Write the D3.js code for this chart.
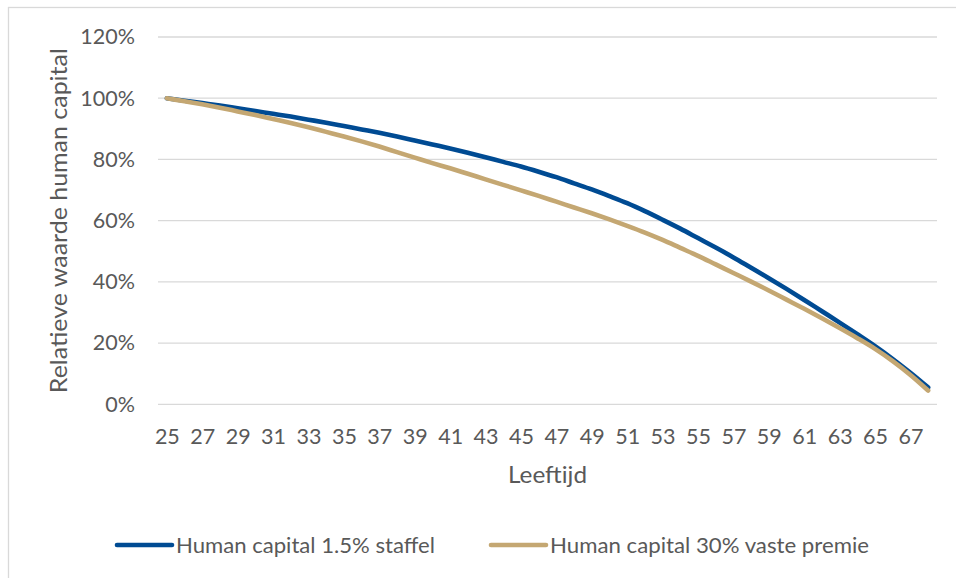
<!DOCTYPE html>
<html>
<head>
<meta charset="utf-8">
<script src="https://cdn.jsdelivr.net/npm/d3@7"></script>
<style>
  html, body { margin: 0; padding: 0; background: #fff; }
  svg { display: block; font-family: Lato, "Open Sans", sans-serif; }
</style>
</head>
<body>
<div id="chart"></div>
<script>
// ages on the category axis
const ages = [25, 26, 27, 28, 29, 30, 31, 32, 33, 34, 35, 36, 37, 38, 39, 40, 41, 42, 43, 44, 45, 46,
  47, 48, 49, 50, 51, 52, 53, 54, 55, 56, 57, 58, 59, 60, 61, 62, 63, 64, 65, 66, 67, 68];

// relative value of human capital, in %
const staffel = [100.0, 99.2, 98.4, 97.6, 96.7, 95.8, 94.9, 94.0, 93.0, 92.0, 90.9, 89.8, 88.7, 87.5,
  86.2, 84.9, 83.6, 82.2, 80.7, 79.2, 77.7, 76.0, 74.2, 72.2, 70.2, 68.0, 65.7, 63.1, 60.3, 57.4,
  54.3, 51.2, 48.0, 44.6, 41.2, 37.7, 34.1, 30.4, 26.7, 22.9, 19.0, 14.8, 10.3, 5.5];
const vastePremie = [100.0, 99.0, 98.0, 96.9, 95.7, 94.5, 93.2, 91.9, 90.5, 89.0, 87.5, 85.9, 84.2,
  82.4, 80.6, 78.8, 77.1, 75.3, 73.5, 71.7, 69.9, 68.1, 66.2, 64.3, 62.4, 60.4, 58.3, 56.1, 53.7,
  51.1, 48.5, 45.7, 42.9, 40.1, 37.2, 34.2, 31.2, 28.1, 24.9, 21.6, 18.1, 14.1, 9.6, 4.5];

const xTickLabels = [25, 27, 29, 31, 33, 35, 37, 39, 41, 43, 45, 47, 49, 51, 53, 55, 57, 59, 61, 63, 65, 67];
const yTickLabels = [0, 20, 40, 60, 80, 100, 120];

const seriesNames = ['Human capital 1.5% staffel', 'Human capital 30% vaste premie'];
const seriesColors = ['#004b93', '#c4a772'];

const width = 956, height = 578;
const margin = { top: 37, right: 19, bottom: 173.7, left: 158 };
const plotW = width - margin.left - margin.right;
const plotH = height - margin.top - margin.bottom;
const textColor = '#595959';
const gridColor = '#d9d9d9';

const svg = d3.select('#chart').append('svg')
  .attr('width', width)
  .attr('height', height);

// chart area border (runs off the right/bottom edge in the original)
svg.append('rect')
  .attr('x', 8.5).attr('y', 7.5)
  .attr('width', 970).attr('height', 600)
  .attr('fill', 'none')
  .attr('stroke', gridColor)
  .attr('stroke-width', 1.3);

const g = svg.append('g').attr('transform', `translate(${margin.left},${margin.top})`);

const x = d3.scalePoint().domain(ages).range([0, plotW]).padding(0.5);
const y = d3.scaleLinear().domain([0, 120]).range([plotH, 0]);

// gridlines
g.append('g')
  .selectAll('line')
  .data(yTickLabels)
  .join('line')
    .attr('x1', 0).attr('x2', plotW)
    .attr('y1', d => y(d)).attr('y2', d => y(d))
    .attr('stroke', gridColor)
    .attr('stroke-width', 1.3);

// y axis labels
const yAxis = g.append('g')
  .call(d3.axisLeft(y).tickValues(yTickLabels).tickFormat(d => d + '%').tickSize(0).tickPadding(23));
yAxis.select('.domain').remove();
yAxis.selectAll('text')
  .attr('fill', textColor)
  .style('font-size', '21.5px')
  .style('font-family', 'Lato, sans-serif');

// x axis labels
const xAxis = g.append('g')
  .attr('transform', `translate(0,${plotH})`)
  .call(d3.axisBottom(x).tickValues(xTickLabels).tickSize(0).tickPadding(24));
xAxis.select('.domain').remove();
xAxis.selectAll('text')
  .attr('fill', textColor)
  .style('font-size', '21.5px')
  .style('font-family', 'Lato, sans-serif');

// axis titles
g.append('text')
  .attr('x', plotW / 2)
  .attr('y', plotH + 79)
  .attr('text-anchor', 'middle')
  .attr('fill', textColor)
  .style('font-size', '23px')
  .attr('textLength', 79)
  .attr('lengthAdjust', 'spacingAndGlyphs')
  .text('Leeftijd');

svg.append('text')
  .attr('transform', `translate(67,${margin.top + plotH / 2}) rotate(-90)`)
  .attr('text-anchor', 'middle')
  .attr('fill', textColor)
  .style('font-size', '23px')
  .attr('textLength', 345)
  .attr('lengthAdjust', 'spacingAndGlyphs')
  .text('Relatieve waarde human capital');

// lines
const line = d3.line()
  .x((d, i) => x(ages[i]))
  .y(d => y(d))
  .curve(d3.curveMonotoneX);

[staffel, vastePremie].forEach((vals, i) => {
  g.append('path')
    .datum(vals)
    .attr('fill', 'none')
    .attr('stroke', seriesColors[i])
    .attr('stroke-width', 4.6)
    .attr('stroke-linecap', 'round')
    .attr('stroke-linejoin', 'round')
    .attr('d', line);
});

// legend
const legendX = [117, 491];
const legendTextW = [259, 319];
const legend = svg.append('g');
seriesNames.forEach((name, i) => {
  legend.append('line')
    .attr('x1', legendX[i]).attr('x2', legendX[i] + 55)
    .attr('y1', 545).attr('y2', 545)
    .attr('stroke', seriesColors[i])
    .attr('stroke-width', 4.6)
    .attr('stroke-linecap', 'round');
  legend.append('text')
    .attr('x', legendX[i] + 59)
    .attr('y', 552.5)
    .attr('fill', textColor)
    .style('font-size', '21px')
    .attr('textLength', legendTextW[i])
    .attr('lengthAdjust', 'spacingAndGlyphs')
    .text(name);
});
</script>
</body>
</html>
